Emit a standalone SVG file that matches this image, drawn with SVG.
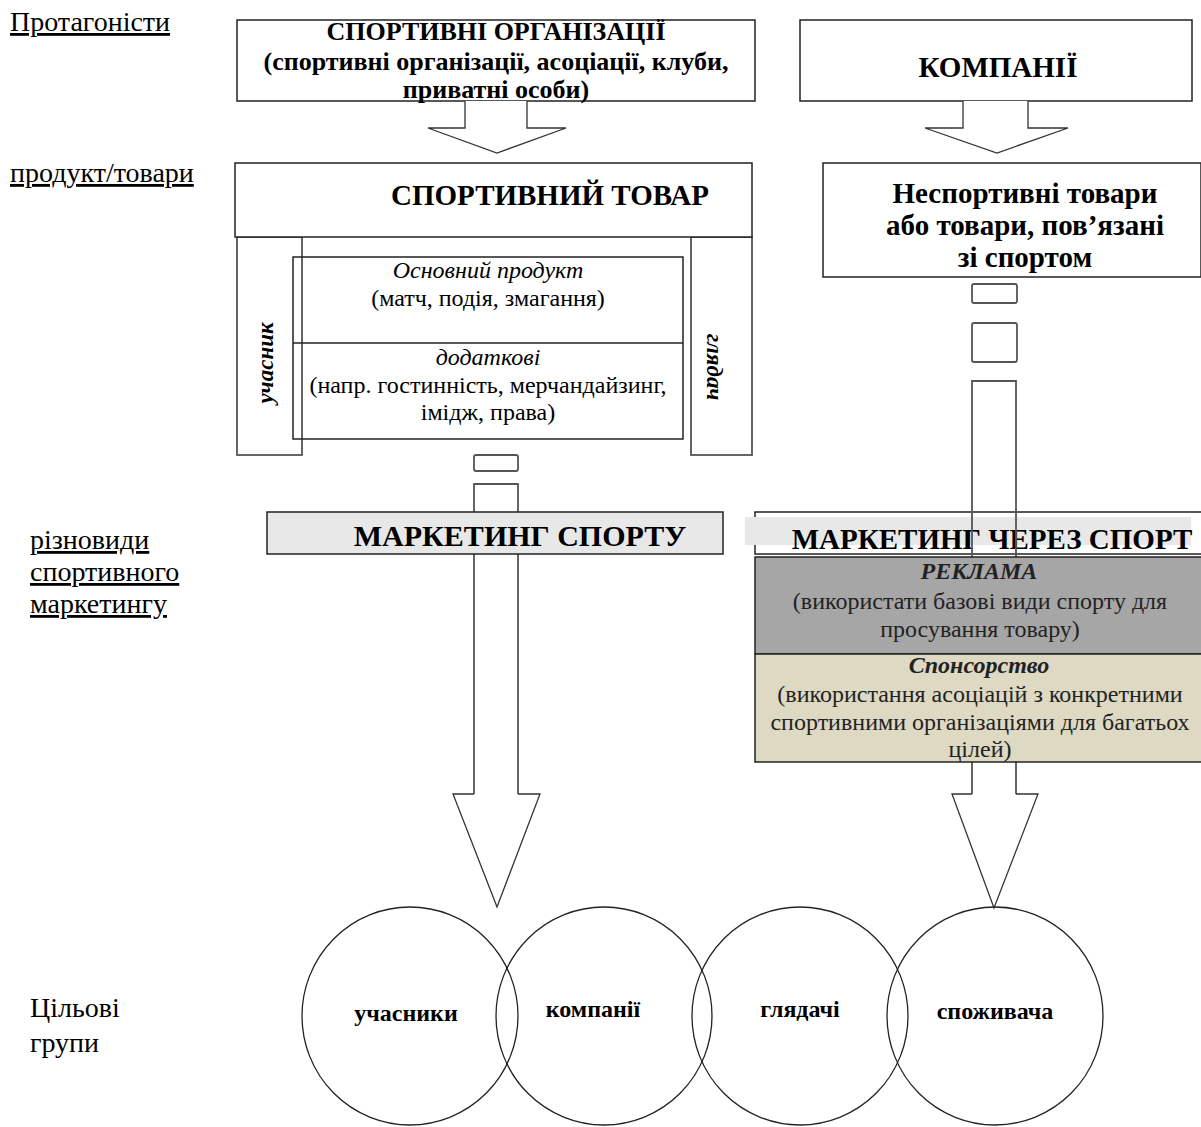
<svg xmlns="http://www.w3.org/2000/svg" width="1201" height="1127" viewBox="0 0 1201 1127">
<style>
text{font-family:"Liberation Serif","Times New Roman",serif;fill:#000}
.lbl{font-size:28px;text-decoration:underline}
.lbl2{font-size:28px}
.b{font-weight:bold}
.i{font-style:italic}
.m{text-anchor:middle}
.box{fill:#fff;stroke:#222;stroke-width:1.5}
.side{fill:#fff;stroke:#555;stroke-width:1.8}
.arr{fill:#fff;stroke:#333;stroke-width:1.3}
.shaft{fill:none;stroke:#555;stroke-width:1.8}
.circ{fill:none;stroke:#222;stroke-width:1.3}
.body{font-size:24px}
.dk{fill:#222}
</style>
<rect width="1201" height="1127" fill="#fff"/>

<g id="labels">
<text class="lbl" x="10" y="31">Протагоністи</text>
<text class="lbl" x="10" y="182">продукт/товари</text>
<text class="lbl" x="30" y="549">різновиди</text>
<text class="lbl" x="30" y="581">спортивного</text>
<text class="lbl" x="30" y="613">маркетингу</text>
<text class="lbl2" x="30" y="1017">Цільові</text>
<text class="lbl2" x="30" y="1052">групи</text>
</g>

<g id="sport-orgs">
<rect class="box" x="237" y="20" width="518" height="81"/>
<text class="b m" x="496" y="40" font-size="26">СПОРТИВНІ ОРГАНІЗАЦІЇ</text>
<text class="b m" x="496" y="70" font-size="26">(спортивні організації, асоціації, клуби,</text>
<text class="b m" x="496" y="98" font-size="26">приватні особи)</text>
</g>

<g id="companies">
<rect class="box" x="800" y="20" width="392" height="81"/>
<text class="b m" x="998" y="77" font-size="29">КОМПАНІЇ</text>
</g>

<g id="sport-product">
<rect class="side" x="237" y="237" width="65" height="218"/>
<rect class="side" x="691" y="237" width="61" height="218"/>
<rect class="box" x="235" y="163" width="517" height="74"/>
<text class="b m" x="550" y="205" font-size="29">СПОРТИВНИЙ ТОВАР</text>
<text class="b i m" font-size="23" transform="translate(273,363) rotate(-90)">учасник</text>
<text class="b i m" font-size="23" transform="translate(707,367) rotate(90)">глядач</text>
<rect x="293" y="257" width="390" height="182" fill="none" stroke="#222" stroke-width="1.5"/>
<line x1="293" y1="343" x2="683" y2="343" stroke="#222" stroke-width="1.5"/>
<text class="body i m" x="488" y="278">Основний продукт</text>
<text class="body m" x="488" y="306">(матч, подія, змагання)</text>
<text class="body i m" x="488" y="365">додаткові</text>
<text class="body m" x="488" y="393">(напр. гостинність, мерчандайзинг,</text>
<text class="body m" x="488" y="420">імідж, права)</text>
</g>

<g id="nonsport-product">
<rect class="box" x="823" y="163" width="378" height="114"/>
<text class="b m" x="1025" y="203" font-size="29">Неспортивні товари</text>
<text class="b m" x="1025" y="235" font-size="29">або товари, пов’язані</text>
<text class="b m" x="1025" y="267" font-size="29">зі спортом</text>
</g>

<g id="marketing-through-sport">
<rect class="box" x="755" y="512" width="450" height="42"/>
<rect x="745" y="517" width="446" height="28" fill="#e8e8e8"/>
<text class="b m" x="992" y="549" font-size="29">МАРКЕТИНГ ЧЕРЕЗ СПОРТ</text>
</g>

<g id="connectors">
<path class="arr" d="M465,101 L465,128 L428,128 L497,153 L566,128 L527,128 L527,101"/>
<path class="arr" d="M963,101 L963,128 L925,128 L997,153 L1068,128 L1028,128 L1028,101"/>
<rect class="shaft" x="474" y="455" width="44" height="16" rx="2"/>
<path class="shaft" style="fill:#fff" d="M474,794 L474,484 L518,484 L518,794"/>
<path class="arr" d="M474,794 L453,794 L497,907 L540,794 L518,794"/>
<rect class="shaft" x="972" y="284" width="45" height="19" rx="2"/>
<rect class="shaft" x="972" y="323" width="45" height="39" rx="2"/>
<path class="shaft" d="M972,794 L972,381 L1016,381 L1016,794"/>
<path class="arr" d="M972,794 L952,794 L994,908 L1038,794 L1016,794"/>
</g>

<g id="marketing-of-sport">
<rect class="box" x="267" y="512" width="456" height="42" style="fill:#e8e8e8"/>
<text class="b m" x="520" y="546" font-size="30">МАРКЕТИНГ СПОРТУ</text>
</g>

<g id="advertising">
<rect x="755" y="557" width="450" height="97" fill="#a6a6a6" stroke="#222" stroke-width="1.5"/>
<text class="b i m dk" x="979" y="579" font-size="24">РЕКЛАМА</text>
<text class="body m dk" x="980" y="609">(використати базові види спорту для</text>
<text class="body m dk" x="980" y="637">просування товару)</text>
</g>

<g id="sponsorship">
<rect x="755" y="654" width="450" height="108" fill="#ddd9c3" stroke="#222" stroke-width="1.5"/>
<text class="b i m dk" x="979" y="673" font-size="24">Спонсорство</text>
<text class="body m dk" x="980" y="702">(використання асоціацій з конкретними</text>
<text class="body m dk" x="980" y="730">спортивними організаціями для багатьох</text>
<text class="body m dk" x="980" y="757">цілей)</text>
</g>

<g id="participants">
<ellipse class="circ" cx="410" cy="1016" rx="108" ry="109"/>
<text class="b m" x="406" y="1021" font-size="24">учасники</text>
</g>
<g id="target-companies">
<ellipse class="circ" cx="604" cy="1016" rx="108" ry="109"/>
<text class="b m" x="593" y="1017" font-size="24">компанії</text>
</g>
<g id="spectators">
<ellipse class="circ" cx="800" cy="1016" rx="108" ry="109"/>
<text class="b m" x="800" y="1017" font-size="24">глядачі</text>
</g>
<g id="consumers">
<ellipse class="circ" cx="995" cy="1016" rx="108" ry="109"/>
<text class="b m" x="995" y="1019" font-size="24">споживача</text>
</g>
</svg>
